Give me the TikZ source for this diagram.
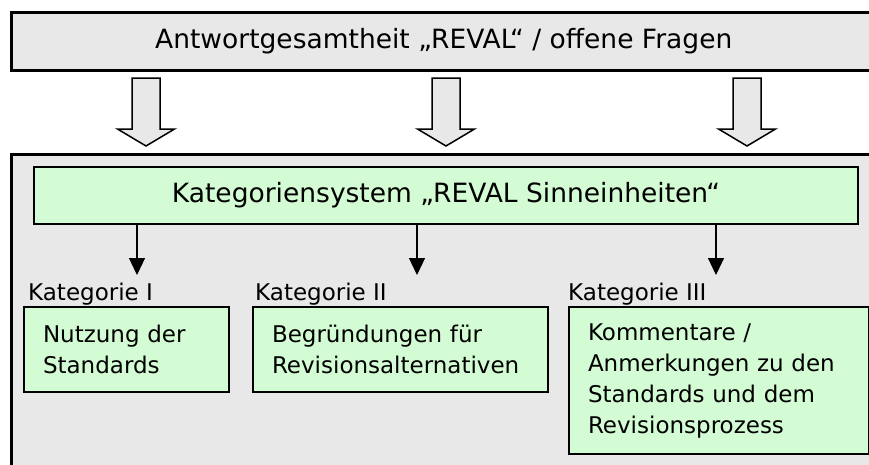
\documentclass[tikz,border=0pt]{standalone}
\usepackage{fontspec}
\setmainfont{DejaVu Sans}
\usetikzlibrary{arrows.meta,positioning}
\definecolor{boxgray}{RGB}{232,232,232}
\definecolor{boxgreen}{RGB}{212,252,212}
\tikzset{
  graybox/.style={draw,line width=2.5pt,fill=boxgray,anchor=north west,inner sep=0pt,
    font=\fontsize{26.5}{32}\selectfont},
  headbox/.style={draw,line width=2pt,fill=boxgreen,anchor=north west,inner sep=0pt,
    font=\fontsize{26.5}{32}\selectfont},
  catbox/.style={draw,line width=2pt,fill=boxgreen,anchor=north west,align=left,
    inner xsep=19pt,inner ysep=0pt,font=\fontsize{23}{31}\selectfont},
  catlabel/.style={anchor=base west,inner sep=0pt,font=\fontsize{23}{31}\selectfont},
  bigarrow/.style={draw,line width=1.5pt,fill=boxgray,line join=miter},
  catarrow/.style={-{Triangle[length=17pt,width=16pt]},line width=1.2pt}
}
\begin{document}
\begin{tikzpicture}[x=1pt,y=-1pt]
\useasboundingbox (0,0) rectangle (869,464);
% Antwortgesamtheit
\node[graybox,minimum width=865,minimum height=58] (top) at (10,11)
  {Antwortgesamtheit „REVAL“ / offene Fragen};
\node[graybox,minimum width=865,minimum height=330] (outer) at (10,153) {};
% Kategoriensystem
\node[headbox,minimum width=824,minimum height=57] (hdr) at (33,166)
  {Kategoriensystem „REVAL Sinneinheiten“};
% grosse Pfeile
\foreach \x in {146,446,747}
  \draw[bigarrow] (\x-14,78) -- (\x+14,78) -- (\x+14,129) -- (\x+28.5,129)
    -- (\x,146) -- (\x-28.5,129) -- (\x-14,129) -- cycle;
% Kategorien
\node[catbox,minimum width=205,minimum height=85,text width=167] (cat1) at (23,306)
  {Nutzung der\\Standards};
\node[catbox,minimum width=295,minimum height=85,text width=257] (cat2) at (252,306)
  {Begründungen für\\Revisionsalternativen};
\node[catbox,minimum width=300,minimum height=147,text width=262] (cat3) at (568,306)
  {Kommentare /\\Anmerkungen zu den\\Standards und dem\\Revisionsprozess};
\node[catlabel] (lab1) at (28,300) {Kategorie I};
\node[catlabel] (lab2) at (255,300) {Kategorie II};
\node[catlabel] (lab3) at (568,300) {Kategorie III};
\foreach \x/\n in {137/1,417/2,716/3} {
  \coordinate (tip\n) at (\x,275);
  \draw[catarrow] (hdr.south -| tip\n) -- (tip\n);
}
\end{tikzpicture}
\end{document}
